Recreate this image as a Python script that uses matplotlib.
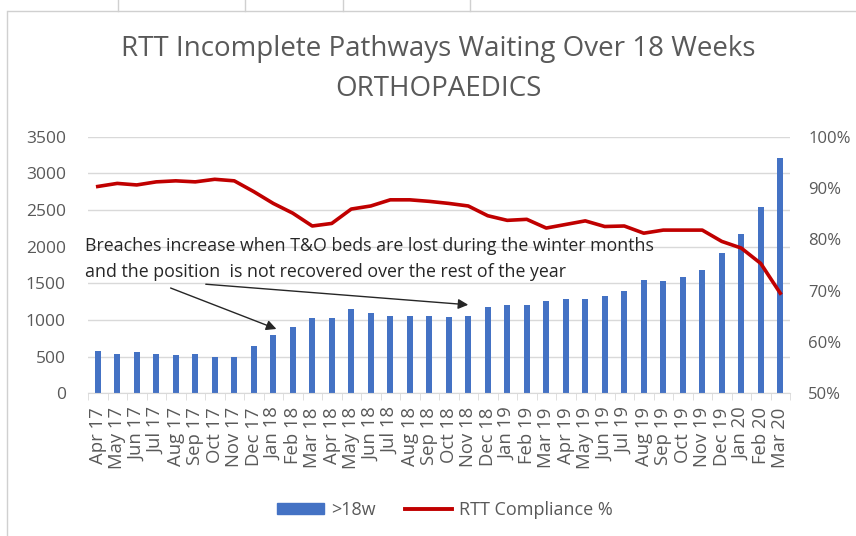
import matplotlib
matplotlib.use("Agg")
import matplotlib.pyplot as plt
from matplotlib.lines import Line2D
from matplotlib.patches import Patch, FancyArrowPatch
from matplotlib.ticker import FuncFormatter, FixedLocator
import numpy as np

months = ["Apr 17", "May 17", "Jun 17", "Jul 17", "Aug 17", "Sep 17", "Oct 17", "Nov 17", "Dec 17",
          "Jan 18", "Feb 18", "Mar 18", "Apr 18", "May 18", "Jun 18", "Jul 18", "Aug 18", "Sep 18",
          "Oct 18", "Nov 18", "Dec 18", "Jan 19", "Feb 19", "Mar 19", "Apr 19", "May 19", "Jun 19",
          "Jul 19", "Aug 19", "Sep 19", "Oct 19", "Nov 19", "Dec 19", "Jan 20", "Feb 20", "Mar 20"]
breaches = [580, 540, 560, 540, 520, 540, 500, 500, 640,
            790, 900, 1030, 1030, 1150, 1090, 1050, 1050, 1060,
            1045, 1060, 1180, 1200, 1200, 1260, 1290, 1290, 1330,
            1390, 1550, 1530, 1590, 1680, 1920, 2170, 2540, 3210]
compliance = [90.3, 90.9, 90.6, 91.2, 91.4, 91.2, 91.7, 91.4, 89.3,
              87.0, 85.1, 82.6, 83.1, 85.9, 86.5, 87.7, 87.7, 87.4,
              87.0, 86.5, 84.6, 83.7, 83.9, 82.2, 82.9, 83.6, 82.5,
              82.6, 81.2, 81.8, 81.8, 81.8, 79.6, 78.3, 75.3, 69.5]
left_ticks = [0, 500, 1000, 1500, 2000, 2500, 3000, 3500]
right_ticks = [50, 60, 70, 80, 90, 100]

title = "RTT Incomplete Pathways Waiting Over 18 Weeks\nORTHOPAEDICS"
note = ("Breaches increase when T&O beds are lost during the winter months\n"
        "and the position  is not recovered over the rest of the year")

FONT = ["Open Sans", "DejaVu Sans"]
plt.rcParams["font.family"] = FONT
GRAY = "#595959"
GRID = "#D9D9D9"
BAR = "#4472C4"
RED = "#C00000"

W, H = 856, 536
fig = plt.figure(figsize=(W / 100, H / 100), dpi=100)

# spreadsheet background hints
fig.add_artist(Line2D([8 / W, 1], [1 - 11 / H, 1 - 11 / H], color="#D0D0D0", lw=1))
fig.add_artist(Line2D([7 / W, 7 / W], [0, 1 - 11 / H], color="#D0D0D0", lw=1))
for xv in [118, 245, 343, 470]:
    fig.add_artist(Line2D([xv / W, xv / W], [1 - 11 / H, 1], color="#D0D0D0", lw=1))

ax = fig.add_axes([88 / W, 1 - 393.3 / H, (790 - 88) / W, (393.3 - 136.7) / H])
x = np.arange(len(months))
ax.bar(x, breaches, width=0.32, color=BAR, zorder=2)
ax.set_xlim(-0.5, len(months) - 0.5)
ax.set_ylim(0, 3500)
ax.set_yticks(left_ticks)
ax.yaxis.grid(True, color=GRID, lw=1)
ax.set_axisbelow(True)
for s in ["top", "right", "left"]:
    ax.spines[s].set_visible(False)
ax.spines["bottom"].set_color(GRID)
ax.tick_params(axis="y", length=0, labelsize=12.5, labelcolor=GRAY, pad=16)
ax.set_xticks(x)
ax.set_xticklabels(months, rotation=90, fontsize=13.3, color=GRAY)
ax.tick_params(axis="x", which="major", length=0, pad=10)
ax.xaxis.set_minor_locator(FixedLocator(np.arange(-0.5, len(months), 1)))
ax.tick_params(axis="x", which="minor", length=5, color=GRID)

ax2 = ax.twinx()
ax2.plot(x, compliance, color=RED, lw=2.6, zorder=3)
ax2.set_ylim(50, 100)
ax2.set_yticks(right_ticks)
ax2.yaxis.set_major_formatter(FuncFormatter(lambda v, p: f"{v:.0f}%"))
ax2.tick_params(axis="y", length=0, labelsize=12, labelcolor=GRAY, pad=13)
for s in ["top", "right", "left", "bottom"]:
    ax2.spines[s].set_visible(False)

fig.text(438 / W, 1 - 69 / H, title, ha="center", va="center", fontsize=20,
         color=GRAY, linespacing=1.57)

fig.text(85 / W, 1 - 259 / H, note, ha="left", va="center", fontsize=12.8,
         color="#262626", linespacing=1.62, zorder=5)

arrowprops = dict(arrowstyle="-|>", color="#262626", lw=1, mutation_scale=15)
fig.add_artist(FancyArrowPatch((168 / W, 1 - 287 / H), (279 / W, 1 - 330 / H),
                               transform=fig.transFigure, **arrowprops))
fig.add_artist(FancyArrowPatch((203 / W, 1 - 284 / H), (471 / W, 1 - 305 / H),
                               transform=fig.transFigure, **arrowprops))

handles = [Patch(color=BAR, label=">18w"), Line2D([], [], color=RED, lw=2.8, label="RTT Compliance %")]
fig.legend(handles=handles, loc="center", bbox_to_anchor=(445 / W, 1 - 510 / H), ncol=2,
           frameon=False, fontsize=13, labelcolor=GRAY, handlelength=2.6, handleheight=0.5,
           columnspacing=1.6, handletextpad=0.4)

fig.savefig("out.png", dpi=100)
